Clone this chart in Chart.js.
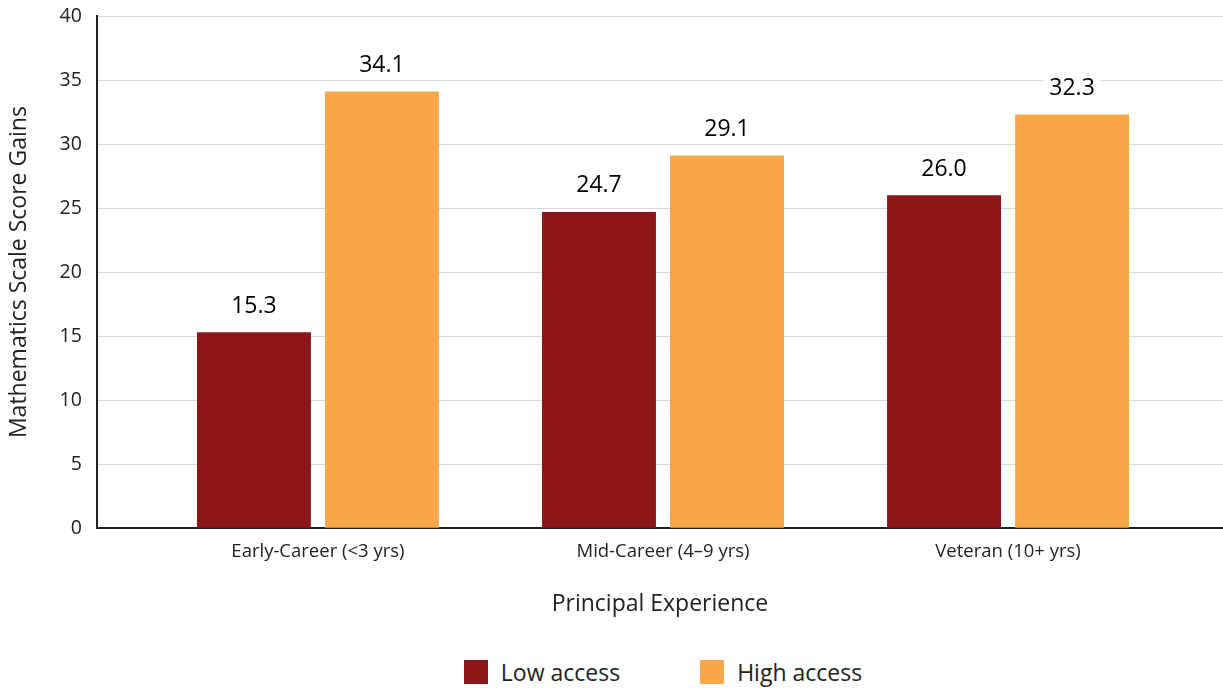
<!DOCTYPE html>
<html>
<head>
<meta charset="utf-8">
<script src="https://cdn.jsdelivr.net/npm/chart.js@4.4.0/dist/chart.umd.min.js"></script>
<style>
  body { margin: 0; background: #fff; font-family: 'Open Sans', sans-serif; }
  #wrap { position: relative; width: 1223px; height: 688px; }
  #chartBox { position: absolute; left: 0; top: 0; width: 1223px; height: 620px; }
  #legend { position: absolute; left: 103px; right: 0; top: 660px; height: 24px; display: flex; justify-content: center; gap: 80px; font-size: 23px; line-height: 24px; color: #222; }
  #legend span.item { display: flex; align-items: center; }
  #legend i { display: inline-block; width: 24px; height: 24px; margin-right: 13px; }
</style>
</head>
<body>
<div id="wrap">
  <div id="chartBox"><canvas id="myChart"></canvas></div>
  <div id="legend"></div>
</div>
<script>
'use strict';

const categories = ['Early-Career (<3 yrs)', 'Mid-Career (4\u20139 yrs)', 'Veteran (10+ yrs)'];
const lowAccess = [15.3, 24.7, 26.0];
const highAccess = [34.1, 29.1, 32.3];
const seriesNames = ['Low access', 'High access'];
const seriesColors = ['#8c1517', '#f9a748'];
const yTicks = [0, 5, 10, 15, 20, 25, 30, 35, 40];

function toPoints(values) {
  return values.map((v, i) => ({ x: i, y: v }));
}

// value labels above each bar, with a white patch so gridlines don't run through them
const barLabels = {
  id: 'barLabels',
  afterDatasetsDraw(chart) {
    const ctx = chart.ctx;
    ctx.save();
    ctx.font = '23px "Open Sans"';
    ctx.textAlign = 'center';
    ctx.textBaseline = 'middle';
    chart.data.datasets.forEach((ds, di) => {
      const meta = chart.getDatasetMeta(di);
      meta.data.forEach((bar, i) => {
        const text = ds.data[i].y.toFixed(1);
        const w = ctx.measureText(text).width + 12;
        const ty = bar.y - 26;
        ctx.fillStyle = '#fff';
        ctx.fillRect(bar.x - w / 2, ty - 12, w, 24);
        ctx.fillStyle = '#000';
        ctx.fillText(text, bar.x, ty);
      });
    });
    ctx.restore();
  }
};

const ctx = document.getElementById('myChart').getContext('2d');
const myChart = new Chart(ctx, {
  type: 'bar',
  data: {
    datasets: [
      { label: seriesNames[0], data: toPoints(lowAccess), backgroundColor: seriesColors[0] },
      { label: seriesNames[1], data: toPoints(highAccess), backgroundColor: seriesColors[1] }
    ]
  },
  options: {
    responsive: true,
    maintainAspectRatio: false,
    animation: false,
    categoryPercentage: 0.742,
    barPercentage: 0.89,
    layout: { padding: { top: 0, right: 0, left: 0, bottom: 0 } },
    plugins: {
      legend: { display: false },
      tooltip: { enabled: false }
    },
    scales: {
      x: {
        type: 'linear',
        min: -0.6406,
        max: 2.623,
        offset: false,
        // only one tick per category, so bar width follows the category spacing
        afterBuildTicks: (scale) => { scale.ticks = categories.map((c, i) => ({ value: i })); },
        grid: { display: false, offset: false, drawTicks: false },
        border: { display: true, color: '#231f20', width: 2 },
        ticks: {
          autoSkip: false,
          maxRotation: 0,
          padding: 12,
          color: '#222',
          font: { family: 'Open Sans', size: 18.5 },
          callback: (v) => categories[v] || ''
        },
        title: {
          display: true,
          text: 'Principal Experience',
          color: '#222',
          font: { family: 'Open Sans', size: 23 },
          padding: { top: 16, bottom: 2 }
        }
      },
      y: {
        min: 0,
        max: 40,
        afterBuildTicks: (scale) => { scale.ticks = yTicks.map(v => ({ value: v })); },
        // tick padding also pads the top of the scale; keep just room for the "40" label
        afterFit: (scale) => { scale.paddingTop = 16; },
        grid: { color: '#d9d9d9', lineWidth: 1, drawTicks: false },
        border: { display: true, color: '#231f20', width: 2 },
        ticks: {
          padding: 15,
          color: '#222',
          font: { family: 'Open Sans', size: 19.5 }
        },
        title: {
          display: true,
          text: 'Mathematics Scale Score Gains',
          color: '#222',
          font: { family: 'Open Sans', size: 23 },
          padding: { top: 6, bottom: 11 }
        }
      }
    }
  },
  plugins: [barLabels]
});

// legend under the chart
const legendElem = document.getElementById('legend');
seriesNames.forEach((name, i) => {
  const item = document.createElement('span');
  item.className = 'item';
  const sw = document.createElement('i');
  sw.style.background = seriesColors[i];
  item.appendChild(sw);
  item.appendChild(document.createTextNode(name));
  legendElem.appendChild(item);
});
</script>
</body>
</html>
